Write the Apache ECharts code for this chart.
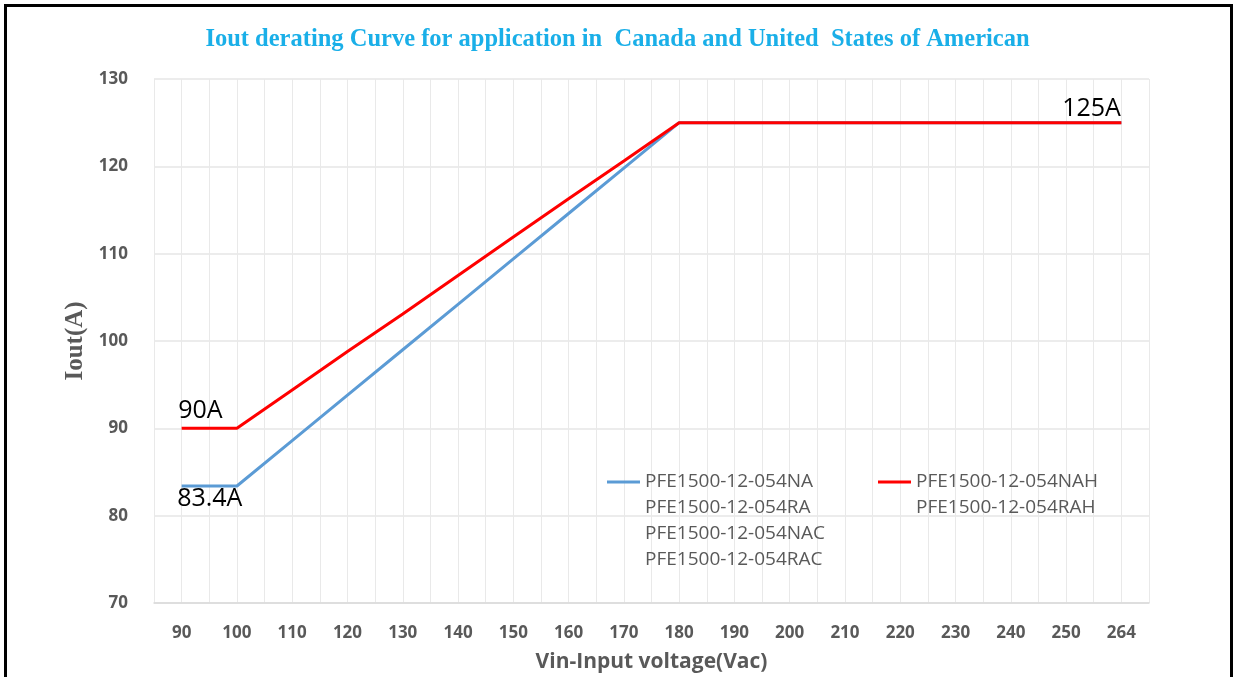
<!DOCTYPE html>
<html>
<head>
<meta charset="utf-8">
<script src="https://cdn.jsdelivr.net/npm/echarts@6/dist/echarts.min.js"></script>
<style>
  html, body { margin: 0; padding: 0; background: #fff; }
  #frame {
    position: absolute; left: 4px; top: 4px; width: 1229px; height: 720px;
    border: 3px solid #000; box-sizing: border-box;
  }
  #chart { position: absolute; left: 0; top: 0; width: 1235px; height: 677px; }
</style>
</head>
<body>
<div id="frame"></div>
<div id="chart"></div>
<script>
// x categories (Vin, Vac)
const vinLabels = ['90', '100', '110', '120', '130', '140', '150', '160', '170', '180',
  '190', '200', '210', '220', '230', '240', '250', '264'];
// NA / RA / NAC / RAC
const ioutStd = [83.4, 83.4, 88.6, 93.8, 99.0, 104.2, 109.4, 114.6, 119.8, 125,
  125, 125, 125, 125, 125, 125, 125, 125];
// NAH / RAH
const ioutH = [90, 90, 94.4, 98.8, 103.1, 107.5, 111.9, 116.3, 120.6, 125,
  125, 125, 125, 125, 125, 125, 125, 125];

const nameStd = 'PFE1500-12-054NA\nPFE1500-12-054RA\nPFE1500-12-054NAC\nPFE1500-12-054RAC';
const nameH = 'PFE1500-12-054NAH\nPFE1500-12-054RAH';

const gray = '#595959';
const lineH = 26;

const chart = echarts.init(document.getElementById('chart'));

const annot = (coord, text, pos, offset) => ({
  coord: coord,
  symbol: 'circle',
  symbolSize: 1,
  itemStyle: { color: 'rgba(0,0,0,0)' },
  label: {
    show: true, formatter: text, position: pos, distance: 0, offset: offset,
    color: '#000', fontSize: 25, fontFamily: 'Open Sans'
  }
});

// legend text is centred on its icon, so pad the top with blank lines
// to put the icon level with the first name
const padLines = name => '\n'.repeat(name.split('\n').length - 1) + name;

const legendBase = {
  orient: 'vertical',
  icon: 'rect',
  itemWidth: 33,
  itemHeight: 3,
  itemGap: 0,
  formatter: padLines,
  textStyle: { color: gray, fontSize: 19, fontFamily: 'Open Sans', lineHeight: lineH }
};

chart.setOption({
  backgroundColor: 'transparent',
  animation: false,
  title: {
    text: 'Iout derating Curve for application in  Canada and United  States of American',
    left: 'center',
    top: 22,
    textStyle: { color: '#1aafe8', fontSize: 24.5, fontWeight: 'bold', fontFamily: 'Liberation Serif' }
  },
  legend: [
    Object.assign({}, legendBase, {
      left: 602, top: 386,
      data: [nameStd]
    }),
    Object.assign({}, legendBase, {
      left: 873, top: 438,
      data: [nameH]
    })
  ],
  grid: { left: 154, right: 86, top: 79, bottom: 74, outerBoundsMode: 'none' },
  xAxis: {
    type: 'value',
    min: -0.5,
    max: vinLabels.length - 0.5,
    interval: 0.5,
    name: 'Vin-Input voltage(Vac)',
    nameLocation: 'middle',
    nameGap: 49,
    nameTextStyle: { color: gray, fontSize: 21, fontWeight: 'bold', fontFamily: 'Open Sans' },
    axisLine: { show: true, lineStyle: { color: '#d9d9d9', width: 1.5 } },
    axisTick: { show: false },
    splitLine: { show: true, lineStyle: { color: '#e9e9e9', width: 1 } },
    axisLabel: {
      margin: 22,
      color: gray, fontSize: 17, fontWeight: 'bold', fontFamily: 'Open Sans',
      formatter: v => {
        const i = Math.round(v);
        return Math.abs(v - i) < 1e-6 ? vinLabels[i] : '';
      }
    }
  },
  yAxis: {
    type: 'value',
    min: 70,
    max: 130,
    interval: 10,
    name: 'Iout(A)',
    nameLocation: 'middle',
    nameGap: 61,
    nameTextStyle: { color: gray, fontSize: 25, fontWeight: 'bold', fontFamily: 'Liberation Serif' },
    axisLine: { show: false },
    axisTick: { show: false },
    splitLine: { lineStyle: { color: '#e6e6e6', width: 1.5 } },
    axisLabel: { margin: 26, color: gray, fontSize: 17, fontWeight: 'bold', fontFamily: 'Open Sans' }
  },
  series: [
    {
      name: nameStd,
      type: 'line',
      symbol: 'none',
      z: 3,
      color: '#5b9bd5',
      lineStyle: { color: '#5b9bd5', width: 3 },
      data: ioutStd.map((v, i) => [i, v]),
      markPoint: {
        data: [annot([0, ioutStd[0]], '83.4A', 'right', [-5, 13])]
      }
    },
    {
      name: nameH,
      type: 'line',
      symbol: 'none',
      z: 4,
      color: '#ff0000',
      lineStyle: { color: '#ff0000', width: 3 },
      data: ioutH.map((v, i) => [i, v]),
      markPoint: {
        data: [
          annot([0, ioutH[0]], '90A', 'right', [-4, -17]),
          annot([vinLabels.length - 1, ioutH[ioutH.length - 1]], '125A', 'left', [0, -14])
        ]
      }
    }
  ]
});
</script>
</body>
</html>
